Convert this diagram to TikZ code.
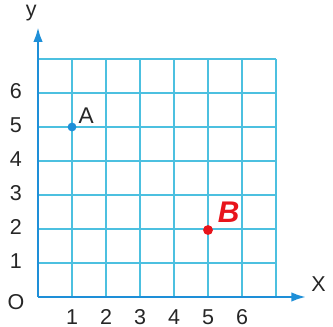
\documentclass[tikz,border=0pt]{standalone}
\usepackage{fontspec}
\setmainfont{Liberation Sans}
\usetikzlibrary{arrows.meta, positioning}
\definecolor{gridcyan}{HTML}{4CC0E0}
\definecolor{axisblue}{HTML}{1E8FD8}
\definecolor{penred}{HTML}{E8141B}

\begin{document}
\begin{tikzpicture}[
  gridline/.style={draw=gridcyan, line width=1pt},
  axis/.style={-{Latex[length=4.5mm, width=2.8mm]}, draw=axisblue, line width=2.4pt},
  ticklabel/.style={font=\fontsize{18}{18}\selectfont, text=black!85},
  ptdot/.style={circle, fill=#1, inner sep=0pt, minimum size=2.6mm}
]
  \useasboundingbox (-1.118,-0.882) rectangle (8.676,8.735);

  % grid
  \foreach \k in {1,...,7} {
    \draw[gridline] (\k,0) -- (\k,7);
    \draw[gridline] (0,\k) -- (7,\k);
  }

  % axes
  \coordinate (o) at (0,0);
  \coordinate (xend) at (7.9,0);
  \coordinate (yend) at (0,7.95);
  \draw[axis] (o) -- (xend);
  \draw[axis] (o) -- (yend);

  \node[ticklabel] (xlab) at (8.25,0.38) {X};
  \node[ticklabel] (ylab) at (-0.2,8.35) {y};
  \node[ticklabel] (olab) at (-0.65,-0.15) {O};

  \foreach \k in {1,...,6} {
    \node[ticklabel] (xt\k) at (\k,-0.58) {\k};
    \node[ticklabel] (yt\k) at (-0.65,\k+0.05) {\k};
  }

  % points
  \node[ptdot=axisblue] (a) at (1,5) {};
  \node[ticklabel, font=\fontsize{19}{19}\selectfont, above right=-1.2mm and -0.3mm of a] (alab) {A};
  \node[ptdot=penred, minimum size=2.9mm] (b) at (5,1.97) {};
  \node[font=\fontsize{25}{25}\selectfont\bfseries\itshape, text=penred, above right=0mm and 0.6mm of b] (blab) {B};
\end{tikzpicture}
\end{document}
